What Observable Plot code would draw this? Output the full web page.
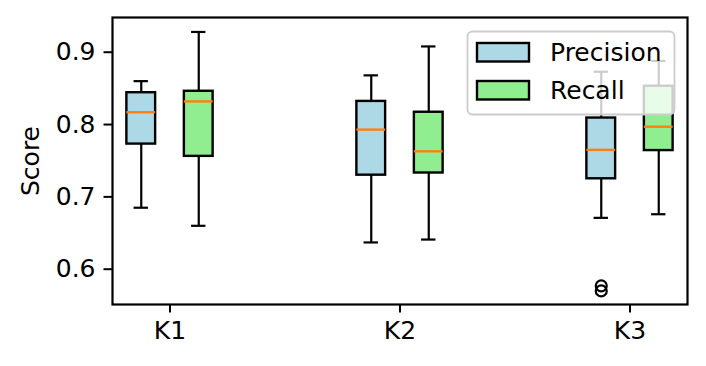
<!DOCTYPE html>
<html><head><meta charset="utf-8">
<script src="https://cdn.jsdelivr.net/npm/d3@7"></script>
<script src="https://cdn.jsdelivr.net/npm/@observablehq/plot@0.6"></script>
<style>
body{margin:0;background:#fff}
svg{font-family:"DejaVu Sans",sans-serif}
</style>
</head><body><div id="chart"></div>
<script>
const categories = ["K1", "K2", "K3"];
const seriesNames = ["Precision", "Recall"];
const seriesColors = ["#add8e6", "#90ee90"];
const precisionLow = [0.685, 0.637, 0.671];
const precisionQ1 = [0.773, 0.730, 0.725];
const precisionMedian = [0.817, 0.793, 0.765];
const precisionQ3 = [0.844, 0.832, 0.809];
const precisionHigh = [0.860, 0.868, 0.873];
const recallLow = [0.660, 0.641, 0.676];
const recallQ1 = [0.756, 0.733, 0.764];
const recallMedian = [0.832, 0.763, 0.797];
const recallQ3 = [0.846, 0.817, 0.853];
const recallHigh = [0.928, 0.908, 0.888];
const outlierSeries = ["Precision", "Precision"];
const outlierCategory = ["K3", "K3"];
const outlierValues = [0.577, 0.570];
const yTicks = [0.6, 0.7, 0.8, 0.9];
const yLabel = "Score";

const offset = {Precision: -0.125, Recall: 0.125};
const half = 0.0625;
const rows = [];
categories.forEach((c, i) => {
  rows.push({cat: c, series: "Precision", pos: i + offset.Precision, low: precisionLow[i], q1: precisionQ1[i], med: precisionMedian[i], q3: precisionQ3[i], high: precisionHigh[i]});
  rows.push({cat: c, series: "Recall", pos: i + offset.Recall, low: recallLow[i], q1: recallQ1[i], med: recallMedian[i], q3: recallQ3[i], high: recallHigh[i]});
});
const outliers = outlierValues.map((v, k) => ({series: outlierSeries[k], pos: categories.indexOf(outlierCategory[k]) + offset[outlierSeries[k]], value: v}));

const W = 706, H = 366;
const chart = Plot.plot({
  width: W, height: H,
  marginLeft: 112, marginRight: 19, marginTop: 17, marginBottom: 62,
  style: {fontFamily: "DejaVu Sans", background: "#fff"},
  x: {domain: [-0.25, 2.25], axis: null},
  y: {domain: [0.5512, 0.948], axis: null},
  color: {domain: seriesNames, range: seriesColors},
  marks: [
    Plot.ruleX(rows, {x: "pos", y1: "low", y2: "q1", stroke: "black", strokeWidth: 2.2}),
    Plot.ruleX(rows, {x: "pos", y1: "q3", y2: "high", stroke: "black", strokeWidth: 2.2}),
    Plot.ruleY(rows, {y: "low", x1: d => d.pos - half / 2, x2: d => d.pos + half / 2, stroke: "black", strokeWidth: 2.2}),
    Plot.ruleY(rows, {y: "high", x1: d => d.pos - half / 2, x2: d => d.pos + half / 2, stroke: "black", strokeWidth: 2.2}),
    Plot.rect(rows, {x1: d => d.pos - half, x2: d => d.pos + half, y1: "q1", y2: "q3", fill: "series", stroke: "black", strokeWidth: 2.4}),
    Plot.ruleY(rows, {y: "med", x1: d => d.pos - half, x2: d => d.pos + half, stroke: "#ff7f0e", strokeWidth: 2.4}),
    Plot.dot(outliers, {x: "pos", y: "value", r: 5.5, stroke: "black", fill: "none", strokeWidth: 2.2}),
    Plot.axisY(yTicks, {tickSize: 8.5, tickPadding: 8.5, tickFormat: d3.format(".1f"), fontSize: 25, label: null, strokeWidth: 2}),
    Plot.axisX([0, 1, 2], {tickSize: 8.5, tickPadding: 8.5, tickFormat: i => categories[i], fontSize: 25, label: null, strokeWidth: 2}),
    Plot.frame({stroke: "black", strokeWidth: 2.2})
  ]
});
document.getElementById("chart").appendChild(chart);

const svg = d3.select(chart);
svg.append("text")
  .attr("transform", "translate(38.5,161) rotate(-90)")
  .attr("text-anchor", "middle")
  .attr("font-size", 25)
  .attr("fill", "black")
  .text(yLabel);

const lg = svg.append("g");
lg.append("rect").attr("x", 467.5).attr("y", 31.5).attr("width", 207).attr("height", 83)
  .attr("rx", 5).attr("fill", "white").attr("fill-opacity", 0.8)
  .attr("stroke", "#cccccc").attr("stroke-width", 1.8);
seriesNames.forEach((s, k) => {
  const yy = 43 + k * 38;
  lg.append("rect").attr("x", 477).attr("y", yy).attr("width", 52).attr("height", 18.5)
    .attr("fill", seriesColors[k]).attr("stroke", "black").attr("stroke-width", 2.4);
  lg.append("text").attr("x", 550).attr("y", yy + 18).attr("text-anchor", "start")
    .attr("font-size", 25).attr("fill", "black").text(s);
});
</script>
</body></html>
